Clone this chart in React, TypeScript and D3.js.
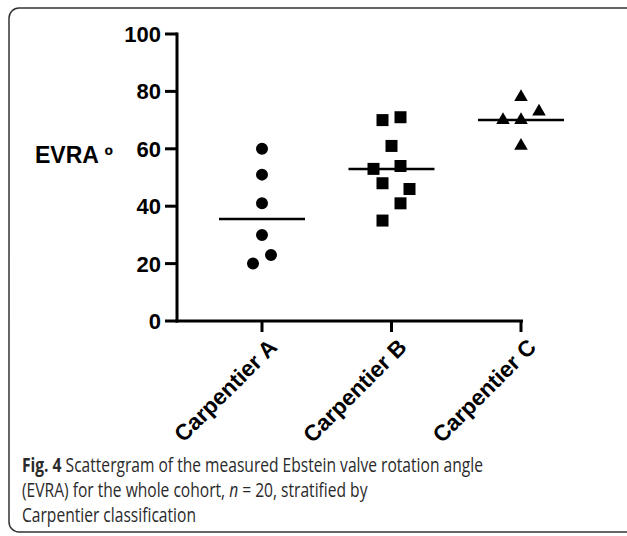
import React, { useEffect, useRef } from 'react'
import * as d3 from 'd3'

const groups = ['Carpentier A', 'Carpentier B', 'Carpentier C']
const evraA = [60, 51, 41, 30, 23, 20]
const jitterA = [0, 0, 0, 0, 1, -1]
const evraB = [71, 70, 61, 54, 53, 48, 46, 41, 35]
const jitterB = [1, -1, 0, 1, -2, -1, 2, 1, -1]
const evraC = [78, 73, 70, 70, 61]
const jitterC = [0, 2, -2, 0, 0]
const yTicks = [0, 20, 40, 60, 80, 100]

const w = 627
const h = 536

export default function App() {
  const ref = useRef<SVGSVGElement | null>(null)

  useEffect(() => {
    const svg = d3.select(ref.current)
    svg.selectAll('*').remove()
    const font = '"Liberation Sans", Arial, sans-serif'

    // frame
    svg
      .append('rect')
      .attr('x', 9)
      .attr('y', 8)
      .attr('width', 640)
      .attr('height', 524)
      .attr('rx', 10)
      .attr('fill', 'none')
      .attr('stroke', '#333')
      .attr('stroke-width', 1.5)

    const xScale = d3.scalePoint<string>().domain(groups).range([262, 521])
    const yScale = d3.scaleLinear().domain([0, 100]).range([321, 34])
    const jScale = d3.scaleLinear().domain([0, 1]).range([0, 9])
    const x0 = 177

    const g = svg.append('g')

    // y axis
    g.append('line')
      .attr('x1', x0)
      .attr('x2', x0)
      .attr('y1', yScale(100) - 1.5)
      .attr('y2', yScale(0) + 1.5)
      .attr('stroke', '#000')
      .attr('stroke-width', 3)
    g.selectAll('.ytick')
      .data(yTicks)
      .enter()
      .append('line')
      .attr('x1', x0 - 12)
      .attr('x2', x0)
      .attr('y1', d => yScale(d))
      .attr('y2', d => yScale(d))
      .attr('stroke', '#000')
      .attr('stroke-width', 3)
    g.selectAll('.ylab')
      .data(yTicks)
      .enter()
      .append('text')
      .text(d => d)
      .attr('x', x0 - 16)
      .attr('y', d => yScale(d))
      .attr('dy', '0.36em')
      .attr('text-anchor', 'end')
      .attr('font-family', font)
      .attr('font-weight', 'bold')
      .attr('font-size', 22)

    // x axis
    g.append('line')
      .attr('x1', x0 - 1.5)
      .attr('x2', (xScale('Carpentier C') as number) + 2)
      .attr('y1', yScale(0))
      .attr('y2', yScale(0))
      .attr('stroke', '#000')
      .attr('stroke-width', 3)
    g.selectAll('.xtick')
      .data(groups)
      .enter()
      .append('line')
      .attr('x1', d => xScale(d) as number)
      .attr('x2', d => xScale(d) as number)
      .attr('y1', yScale(0))
      .attr('y2', yScale(0) + 11)
      .attr('stroke', '#000')
      .attr('stroke-width', 3)
    g.selectAll('.xlab')
      .data(groups)
      .enter()
      .append('text')
      .text(d => d)
      .attr('transform', d => `translate(${(xScale(d) as number) + 5},${yScale(0) + 16}) rotate(-45)`)
      .attr('text-anchor', 'end')
      .attr('dy', '0.72em')
      .attr('font-family', font)
      .attr('font-weight', 'bold')
      .attr('font-size', 22.5)

    // axis title
    g.append('text')
      .text('EVRA º')
      .attr('x', 35)
      .attr('y', 163)
      .attr('font-family', font)
      .attr('font-weight', 'bold')
      .attr('font-size', 23)

    // points
    const series = [
      { name: groups[0], values: evraA, jitter: jitterA, shape: d3.symbolCircle, size: 113 },
      { name: groups[1], values: evraB, jitter: jitterB, shape: d3.symbolSquare, size: 144 },
      { name: groups[2], values: evraC, jitter: jitterC, shape: d3.symbolTriangle, size: 80 }
    ]
    series.forEach(s => {
      const cx = xScale(s.name) as number
      const med = d3.median(s.values) as number
      g.append('line')
        .attr('x1', cx - 43)
        .attr('x2', cx + 43)
        .attr('y1', yScale(med))
        .attr('y2', yScale(med))
        .attr('stroke', '#000')
        .attr('stroke-width', 2.5)
      g.selectAll(null)
        .data(s.values)
        .enter()
        .append('path')
        .attr('d', d3.symbol().type(s.shape).size(s.size)())
        .attr('transform', (d, i) => `translate(${cx + jScale(s.jitter[i])},${yScale(d)})`)
        .attr('fill', '#000')
    })

    // caption (horizontally condensed)
    const cap = svg
      .append('g')
      .attr('transform', 'translate(22,0) scale(0.78,1)')
      .attr('font-family', '"Open Sans", sans-serif')
      .attr('font-size', 20)
      .attr('fill', '#2a2a2a')
    const l1 = cap.append('text').attr('x', 0).attr('y', 472)
    l1.append('tspan').attr('font-weight', 'bold').text('Fig. 4')
    l1.append('tspan').text(' Scattergram of the measured Ebstein valve rotation angle')
    const l2 = cap.append('text').attr('x', 0).attr('y', 497)
    l2.append('tspan').text('(EVRA) for the whole cohort, ')
    l2.append('tspan').attr('font-style', 'italic').text('n')
    l2.append('tspan').text(' = 20, stratified by')
    cap.append('text').attr('x', 0).attr('y', 522).text('Carpentier classification')
  }, [])

  return (
    <svg
      ref={ref}
      width={w}
      height={h}
      style={{ position: 'absolute', left: 0, top: 0, background: '#fff' }}
    />
  )
}
